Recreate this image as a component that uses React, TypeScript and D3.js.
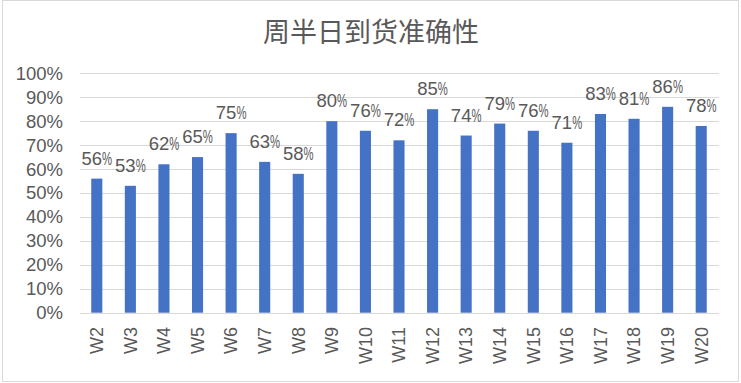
import React from "react";
import * as d3 from "d3";

const categories = ["W2","W3","W4","W5","W6","W7","W8","W9","W10","W11","W12","W13","W14","W15","W16","W17","W18","W19","W20"];
const values = [56,53,62,65,75,63,58,80,76,72,85,74,79,76,71,83,81,86,78];
const yTicks = [0,10,20,30,40,50,60,70,80,90,100];
const title = "周半日到货准确性";

const W = 741, H = 383;
const plotLeft = 80, plotRight = 718, plotTop = 73.3, plotBottom = 312.7;

export default function App() {
  const x = d3.scaleBand<string>().domain(categories).range([plotLeft, plotRight]).paddingInner(0.67).paddingOuter(0.335);
  const y = d3.scaleLinear().domain([0, 100]).range([plotBottom, plotTop]);
  const font = "'Liberation Sans', Arial, sans-serif";
  const gray = "#595959";
  const fs = 18.5;
  const pctScale = 0.61;
  return (
    <svg width={W} height={H} style={{ position: "absolute", left: 0, top: 0, background: "#fff" }}>
      <rect x={2.5} y={0.5} width={736} height={381} fill="#fff" stroke="#d9d9d9" strokeWidth={1} />
      <text x={371} y={42} textAnchor="middle" fontFamily="'Noto Sans CJK SC', sans-serif" fontSize={27} fill={gray}>{title}</text>
      {yTicks.map(t => (
        <g key={t}>
          <line x1={plotLeft} x2={plotRight + 1} y1={Math.round(y(t)) + 0.5} y2={Math.round(y(t)) + 0.5} stroke="#d9d9d9" strokeWidth={1} />
          <text x={63} y={y(t)} dy="0.35em" textAnchor="end" fontFamily={font} fontSize={fs} fill={gray}>{t}%</text>
        </g>
      ))}
      {categories.map((c, i) => {
        const bx = x(c)!;
        const bw = x.bandwidth();
        const cx = bx + bw / 2;
        const s = String(values[i]);
        const digitW = 0.556 * fs * s.length;
        const pctW = 0.889 * fs * pctScale;
        const startX = cx - (digitW + pctW) / 2;
        const ly = y(values[i]) - 14;
        return (
          <g key={c}>
            <rect x={bx} y={y(values[i])} width={bw} height={plotBottom - y(values[i])} fill="#4472C4" />
            <text x={startX} y={ly} textAnchor="start" fontFamily={font} fontSize={fs} fill={gray}>{s}</text>
            <text transform={`translate(${startX + digitW},${ly}) scale(${pctScale},1)`} textAnchor="start" fontFamily={font} fontSize={fs} fill={gray}>%</text>
            <text transform={`translate(${cx},327) rotate(-90)`} dy="0.35em" textAnchor="end" fontFamily={font} fontSize={18} fill={gray}>{c}</text>
          </g>
        );
      })}
    </svg>
  );
}
